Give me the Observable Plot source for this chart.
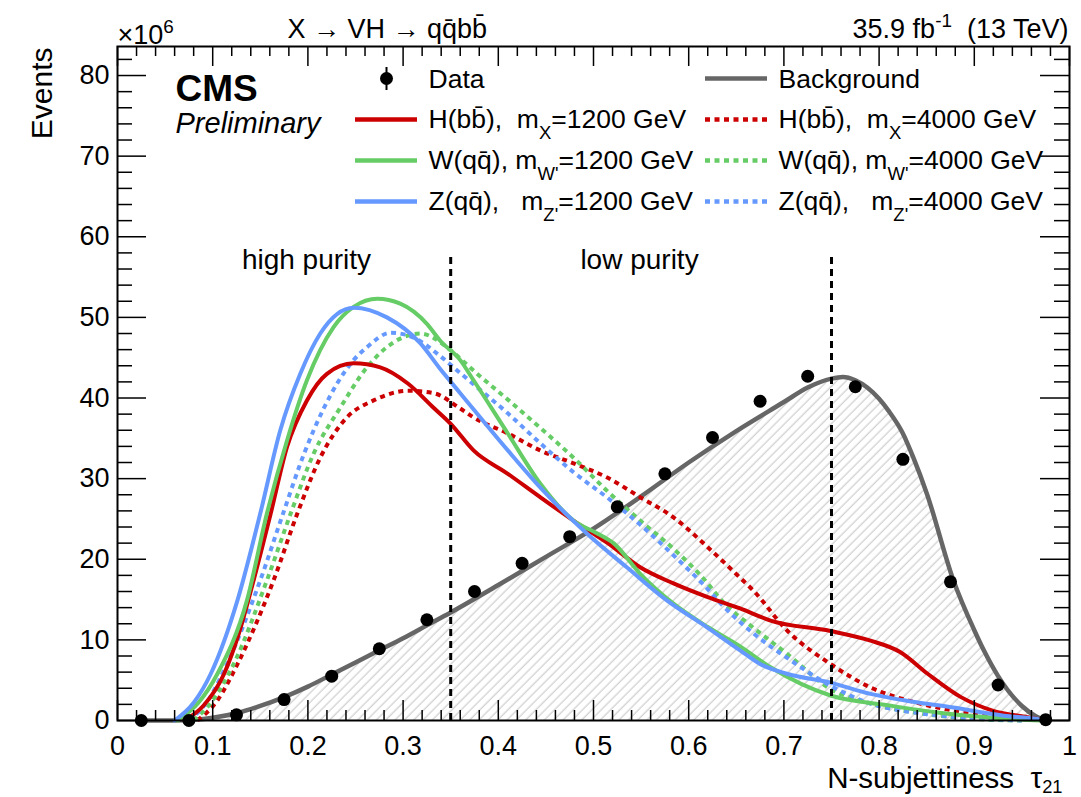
<!DOCTYPE html>
<html>
<head>
<meta charset="utf-8">
<script src="https://cdn.jsdelivr.net/npm/d3@7"></script>
<script src="https://cdn.jsdelivr.net/npm/@observablehq/plot@0.6"></script>
<style>
  body { margin: 0; background: white; }
  svg text { white-space: pre; }
</style>
</head>
<body>
<script>
// ---------------- data ----------------
const dataPoints = [[0.025,0],[0.075,0],[0.125,0.7],[0.175,2.6],[0.225,5.5],[0.275,8.9],[0.325,12.5],[0.375,16.0],[0.425,19.5],[0.475,22.8],[0.525,26.5],[0.575,30.6],[0.625,35.1],[0.675,39.6],[0.725,42.7],[0.775,41.4],[0.825,32.4],[0.875,17.2],[0.925,4.4],[0.975,0.1]];

const background = [[0.025,0],[0.06,0],[0.08,0.1],[0.10,0.35],[0.125,0.9],[0.15,1.8],[0.175,2.9],[0.20,4.2],[0.225,5.7],[0.25,7.2],[0.275,8.7],[0.30,10.2],[0.325,11.8],[0.35,13.4],[0.40,16.8],[0.45,20.3],[0.50,23.8],[0.55,27.8],[0.60,32.0],[0.65,35.9],[0.70,39.5],[0.725,41.3],[0.75,42.4],[0.762,42.6],[0.775,42.2],[0.80,39.9],[0.81,38.4],[0.825,35.6],[0.836,32.6],[0.85,28.2],[0.878,17.4],[0.90,11.2],[0.91,8.7],[0.925,5.5],[0.95,1.8],[0.965,0.5],[0.975,0]];

const hbb1200 = [[0.07,0],[0.09,1.8],[0.112,5.8],[0.128,11],[0.143,17.4],[0.161,25.7],[0.178,33.9],[0.199,39.7],[0.22,43.0],[0.248,44.3],[0.276,43.8],[0.305,41.8],[0.332,38.8],[0.35,36.8],[0.374,33.5],[0.41,30.6],[0.444,27.7],[0.479,24.8],[0.515,22.0],[0.549,19.0],[0.584,17.0],[0.62,15.3],[0.654,13.9],[0.686,12.4],[0.749,11.1],[0.791,9.9],[0.822,8.5],[0.851,5.8],[0.886,2.9],[0.92,1.2],[0.956,0.4],[0.975,0]];

const wqq1200 = [[0.063,0],[0.085,2.2],[0.105,5.8],[0.136,14.9],[0.157,25.7],[0.178,34.7],[0.199,42.2],[0.227,48.8],[0.248,51.3],[0.273,52.3],[0.297,51.7],[0.325,49.2],[0.339,47.1],[0.36,44.7],[0.374,42.2],[0.41,35.6],[0.444,29.4],[0.479,24.8],[0.504,23.2],[0.521,22.0],[0.549,18.2],[0.584,14.5],[0.62,11.6],[0.654,9.2],[0.686,6.6],[0.749,3.1],[0.809,1.9],[0.861,1.0],[0.914,0.4],[0.97,0]];

const zqq1200 = [[0.06,0],[0.08,2.2],[0.098,5.8],[0.126,14.9],[0.15,25.7],[0.171,36],[0.192,43],[0.213,48],[0.248,51.2],[0.283,50],[0.318,46.8],[0.339,43.6],[0.36,40.6],[0.41,33.5],[0.444,28.9],[0.493,23.2],[0.535,19.0],[0.577,14.9],[0.62,11.5],[0.654,8.7],[0.675,7.0],[0.703,5.8],[0.749,4.7],[0.791,3.3],[0.826,2.5],[0.878,1.6],[0.931,0.6],[0.966,0.2],[0.975,0]];

const hbb4000 = [[0.084,0],[0.105,2.5],[0.126,7.0],[0.164,17.4],[0.189,25.7],[0.213,32.6],[0.241,37.6],[0.269,39.7],[0.305,40.9],[0.332,40.6],[0.36,38.7],[0.374,37.6],[0.41,35.6],[0.444,33.5],[0.479,31.9],[0.515,30.1],[0.549,27.7],[0.584,25.2],[0.62,21.5],[0.654,17.7],[0.668,16.1],[0.703,11.2],[0.749,7.0],[0.791,4.1],[0.843,2.1],[0.896,0.9],[0.949,0.2],[0.975,0]];

const wqq4000 = [[0.08,0],[0.1,2.5],[0.122,7.0],[0.157,17.4],[0.182,25.7],[0.206,33.1],[0.234,38.8],[0.262,43.8],[0.29,46.9],[0.318,48.0],[0.346,46.3],[0.36,44.9],[0.374,43.4],[0.41,39.8],[0.444,36.3],[0.479,32.6],[0.515,28.4],[0.549,24.8],[0.584,21.3],[0.62,17.0],[0.633,15.1],[0.668,11.5],[0.703,8.3],[0.749,3.9],[0.791,2.1],[0.843,0.9],[0.914,0.1],[0.95,0]];

const zqq4000 = [[0.075,0],[0.095,2.5],[0.115,7.0],[0.15,17.4],[0.174,25.7],[0.196,33.1],[0.217,38.8],[0.248,44.7],[0.262,46.3],[0.287,48.1],[0.311,47.5],[0.339,45.2],[0.36,43.1],[0.374,41.7],[0.41,38.1],[0.444,34.4],[0.479,30.8],[0.515,27.6],[0.549,24.3],[0.584,20.5],[0.62,16.3],[0.633,14.6],[0.668,10.8],[0.703,7.8],[0.749,4.3],[0.791,2.1],[0.843,0.9],[0.896,0.3],[0.95,0]];

const xTicks = [0,0.1,0.2,0.3,0.4,0.5,0.6,0.7,0.8,0.9,1];
const xTickLabels = ["0","0.1","0.2","0.3","0.4","0.5","0.6","0.7","0.8","0.9","1"];
const yTicks = [0,10,20,30,40,50,60,70,80];
const yTickLabels = ["0","10","20","30","40","50","60","70","80"];
const xMinor = d3.range(0, 51).filter(i => i % 5 !== 0).map(i => i / 50);
const yMinor = d3.range(0, 42).filter(i => i % 5 !== 0).map(i => i * 2);

const purityCuts = [0.35, 0.75];
const purityCutTop = 58;
const regionLabels = ["high purity", "low purity"];

const titleLeft = "X → VH → qq̄bb̄";
const titleRight = "35.9 fb^{-1}  (13 TeV)";
const yExponent = "×10^{6}";
const xLabel = "N-subjettiness  τ_{21}";
const yLabel = "Events";

const legendLabels = [
  "Data", "Background",
  "H(bb̄),  m_{X}=1200 GeV", "H(bb̄),  m_{X}=4000 GeV",
  "W(qq̄), m_{W'}=1200 GeV", "W(qq̄), m_{W'}=4000 GeV",
  "Z(qq̄),   m_{Z'}=1200 GeV", "Z(qq̄),   m_{Z'}=4000 GeV"
];

// ---------------- style ----------------
const RED = "#cc0000", GREEN = "#66cc66", BLUE = "#6699ff", GRAY = "#666666";
const FONT = "Liberation Sans, Arial, Helvetica, sans-serif";
const W = 1081, H = 797, ML = 117, MR = 12, MT = 46, MB = 77;
const FW = W - ML - MR, FH = H - MT - MB;
const DASH = "5,4.5";

const series = [
  {data: hbb4000, color: RED, dash: DASH},
  {data: wqq4000, color: GREEN, dash: DASH},
  {data: zqq4000, color: BLUE, dash: DASH},
  {data: hbb1200, color: RED, dash: null},
  {data: wqq1200, color: GREEN, dash: null},
  {data: zqq1200, color: BLUE, dash: null}
];

const legendStyles = [
  {kind: "data"}, {kind: "line", color: GRAY, dash: null},
  {kind: "line", color: RED, dash: null}, {kind: "line", color: RED, dash: DASH},
  {kind: "line", color: GREEN, dash: null}, {kind: "line", color: GREEN, dash: DASH},
  {kind: "line", color: BLUE, dash: null}, {kind: "line", color: BLUE, dash: DASH}
];

const legendMarks = [];
legendLabels.forEach((label, i) => {
  const col = i % 2, row = Math.floor(i / 2);
  const [l0, l1] = col === 0 ? [355, 417] : [705, 767];
  const tx = col === 0 ? 428 : 778;
  const lineY = 78 + row * 41;
  const base = 87 + row * 40.7;
  const st = legendStyles[i];
  if (st.kind === "data") {
    legendMarks.push(Plot.ruleX([0], {dx: 386 - ML, insetTop: 67 - MT, insetBottom: H - MB - 90, stroke: "black", strokeWidth: 2}));
    legendMarks.push(Plot.dot([0], {x: null, y: null, frameAnchor: "top-left", dx: 386 - ML, dy: lineY - MT, r: 6.5, fill: "black", stroke: "none"}));
  } else {
    legendMarks.push(Plot.ruleY([0], {insetLeft: l0 - ML, insetRight: W - MR - l1, dy: lineY - (H - MB), stroke: st.color, strokeWidth: 4.5, strokeDasharray: st.dash, strokeLinecap: "butt"}));
  }
  legendMarks.push(Plot.text([label], {text: d => d, frameAnchor: "top-left", dx: tx - ML, dy: base - MT, lineAnchor: "bottom", textAnchor: "start", fontSize: 26.5, fill: "black"}));
});

const chart = Plot.plot({
  width: W, height: H,
  marginLeft: ML, marginRight: MR, marginTop: MT, marginBottom: MB,
  style: {fontFamily: FONT, fontSize: "27px", background: "white", color: "black"},
  x: {domain: [0, 1], axis: null},
  y: {domain: [0, 83.6], axis: null},
  marks: [
    Plot.areaY(background, {x: d => d[0], y: d => d[1], fill: "url(#hatch)", curve: "monotone-x"}),
    Plot.line(background, {x: d => d[0], y: d => d[1], stroke: GRAY, strokeWidth: 4.5, curve: "monotone-x"}),
    ...series.map(s => Plot.line(s.data, {x: d => d[0], y: d => d[1], stroke: s.color, strokeWidth: 4, strokeDasharray: s.dash, strokeLinecap: s.dash ? "butt" : "round", curve: "monotone-x"})),
    Plot.ruleX(purityCuts, {x: d => d, y1: 0, y2: purityCutTop, stroke: "black", strokeWidth: 3, strokeDasharray: "7,5", strokeLinecap: "butt"}),
    Plot.dot(dataPoints, {x: d => d[0], y: d => d[1], r: 6.5, fill: "black", stroke: "none"}),
    // region labels
    Plot.text([regionLabels[0]], {text: d => d, frameAnchor: "top-left", dx: 306 - ML, dy: 268 - MT, lineAnchor: "bottom", textAnchor: "middle", fontSize: 28}),
    Plot.text([regionLabels[1]], {text: d => d, frameAnchor: "top-left", dx: 639 - ML, dy: 268 - MT, lineAnchor: "bottom", textAnchor: "middle", fontSize: 28}),
    // CMS labels
    Plot.text(["CMS"], {text: d => d, frameAnchor: "top-left", dx: 175 - ML, dy: 100 - MT, lineAnchor: "bottom", textAnchor: "start", fontSize: 37, fontWeight: "bold"}),
    Plot.text(["Preliminary"], {text: d => d, frameAnchor: "top-left", dx: 175 - ML, dy: 132 - MT, lineAnchor: "bottom", textAnchor: "start", fontSize: 29, fontStyle: "italic"}),
    ...legendMarks,
    // ticks (ROOT style, inward on all four sides)
    Plot.tickX(xTicks, {x: d => d, insetTop: FH - 20, strokeWidth: 1.5}),
    Plot.tickX(xMinor, {x: d => d, insetTop: FH - 10, strokeWidth: 1.5}),
    Plot.tickX(xTicks, {x: d => d, insetBottom: FH - 20, strokeWidth: 1.5}),
    Plot.tickX(xMinor, {x: d => d, insetBottom: FH - 10, strokeWidth: 1.5}),
    Plot.tickY(yTicks, {y: d => d, insetRight: FW - 29, strokeWidth: 1.5}),
    Plot.tickY(yMinor, {y: d => d, insetRight: FW - 15, strokeWidth: 1.5}),
    Plot.tickY(yTicks, {y: d => d, insetLeft: FW - 29, strokeWidth: 1.5}),
    Plot.tickY(yMinor, {y: d => d, insetLeft: FW - 15, strokeWidth: 1.5}),
    Plot.frame({stroke: "black", strokeWidth: 2}),
    // tick labels
    Plot.text(xTicks, {x: d => d, text: (d, i) => xTickLabels[i], frameAnchor: "bottom", dy: 15, lineAnchor: "top", fontSize: 27}),
    Plot.text(yTicks, {y: d => d, text: (d, i) => yTickLabels[i], frameAnchor: "left", dx: -8, textAnchor: "end", fontSize: 27}),
    // titles and axis labels
    Plot.text([titleLeft], {text: d => d, frameAnchor: "top-left", dx: 287 - ML, dy: 37 - MT, lineAnchor: "bottom", textAnchor: "start", fontSize: 27}),
    Plot.text([titleRight], {text: d => d, frameAnchor: "top-right", dx: -1, dy: 37 - MT, lineAnchor: "bottom", textAnchor: "end", fontSize: 27}),
    Plot.text([yExponent], {text: d => d, frameAnchor: "top-left", dx: 0, dy: 43 - MT, lineAnchor: "bottom", textAnchor: "start", fontSize: 27}),
    Plot.text([xLabel], {text: d => d, frameAnchor: "bottom-right", dx: -7, dy: 787 - (H - MB), lineAnchor: "bottom", textAnchor: "end", fontSize: 29.5}),
    Plot.text([yLabel], {text: d => d, frameAnchor: "top-left", dx: 42 - ML, dy: 47 - MT, rotate: -90, textAnchor: "end", lineAnchor: "middle", fontSize: 30})
  ]
});

document.body.append(chart);

// hatch pattern definition for the background fill
const NS = "http://www.w3.org/2000/svg";
const defs = document.createElementNS(NS, "defs");
const pat = document.createElementNS(NS, "pattern");
pat.setAttribute("id", "hatch");
pat.setAttribute("patternUnits", "userSpaceOnUse");
pat.setAttribute("width", "6.6");
pat.setAttribute("height", "6.6");
pat.setAttribute("patternTransform", "rotate(45)");
const pl = document.createElementNS(NS, "line");
pl.setAttribute("x1", "3"); pl.setAttribute("y1", "0");
pl.setAttribute("x2", "3"); pl.setAttribute("y2", "6.6");
pl.setAttribute("stroke", "#c2c2c2"); pl.setAttribute("stroke-width", "1");
pat.appendChild(pl);
defs.appendChild(pat);
chart.insertBefore(defs, chart.firstChild);

// rich text: _{sub} and ^{sup}
function richify(root) {
  root.querySelectorAll("text").forEach(t => {
    const targets = t.querySelector("tspan") ? [...t.querySelectorAll("tspan")] : [t];
    for (const n of targets) {
      const s = n.textContent;
      if (!/[_^]\{/.test(s)) continue;
      const fs = parseFloat(getComputedStyle(n).fontSize) || 27;
      const subShift = s.includes("τ") ? 0.18 : 0.42;
      const subSize = s.includes("τ") ? 0.62 : 0.7;
      n.textContent = "";
      let shift = 0;
      const add = (txt, target, size) => {
        const ts = document.createElementNS(NS, "tspan");
        const d = target - shift;
        if (d) ts.setAttribute("dy", d.toFixed(2));
        if (size) ts.setAttribute("font-size", size.toFixed(1));
        ts.textContent = txt;
        n.appendChild(ts);
        shift = target;
      };
      const re = /([_^])\{([^}]*)\}/g;
      let last = 0, m;
      while ((m = re.exec(s))) {
        if (m.index > last) add(s.slice(last, m.index), 0);
        if (m[1] === "_") add(m[2], subShift * fs, subSize * fs);
        else add(m[2], -0.38 * fs, 0.7 * fs);
        last = re.lastIndex;
      }
      if (last < s.length) add(s.slice(last), 0);
    }
  });
}
richify(chart);
</script>
</body>
</html>
